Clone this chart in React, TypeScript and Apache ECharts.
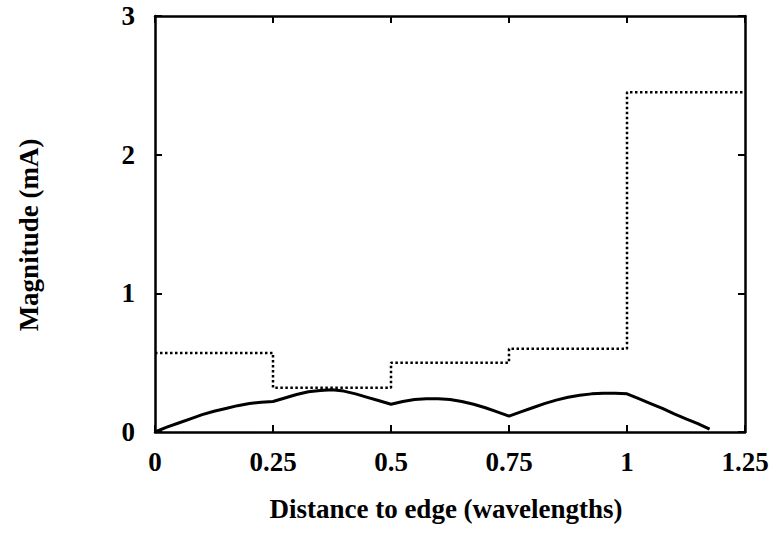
import React, { useEffect, useRef } from "react";
import * as echarts from "echarts";

const stepX = [0, 0.25, 0.5, 0.75, 1.0, 1.25];
const stepY = [0.57, 0.32, 0.5, 0.6, 2.45, 2.45];

const solidX = [
  0, 0.025, 0.05, 0.075, 0.1, 0.125, 0.15, 0.175, 0.2, 0.225, 0.25,
  0.275, 0.3, 0.325, 0.35, 0.375, 0.4, 0.425, 0.45, 0.475, 0.5,
  0.525, 0.55, 0.575, 0.6, 0.625, 0.65, 0.675, 0.7, 0.725, 0.75,
  0.775, 0.8, 0.825, 0.85, 0.875, 0.9, 0.925, 0.95, 0.975, 1.0,
  1.025, 1.05, 1.075, 1.1, 1.125, 1.15, 1.175,
];
const solidY = [
  0, 0.035, 0.065, 0.095, 0.125, 0.15, 0.17, 0.19, 0.205, 0.215, 0.22,
  0.245, 0.27, 0.29, 0.3, 0.305, 0.295, 0.275, 0.25, 0.225, 0.2,
  0.22, 0.235, 0.24, 0.24, 0.235, 0.22, 0.2, 0.175, 0.145, 0.115,
  0.145, 0.175, 0.205, 0.23, 0.25, 0.265, 0.275, 0.28, 0.28, 0.275,
  0.24, 0.205, 0.17, 0.13, 0.095, 0.06, 0.02,
];

const xTicks = [0, 0.25, 0.5, 0.75, 1, 1.25];
const xTickLabels = ["0", "0.25", "0.5", "0.75", "1", "1.25"];
const yTickLabels = ["0", "1", "2", "3"];

const xTitle = "Distance to edge (wavelengths)";
const yTitle = "Magnitude (mA)";

const FONT = "'Liberation Serif', 'DejaVu Serif', serif";

export default function App() {
  const ref = useRef<HTMLDivElement>(null);
  useEffect(() => {
    if (!ref.current) return;
    const chart = echarts.init(ref.current, null, { renderer: "svg" });
    const axisLine = { show: true, onZero: false, lineStyle: { color: "#000", width: 2.5 } };
    const tick = { show: true, inside: true, length: 7, lineStyle: { color: "#000", width: 2 } };
    chart.setOption({
      animation: false,
      backgroundColor: "#fff",
      grid: { left: 155, right: 32, top: 16, bottom: 110, containLabel: false },
      xAxis: [
        {
          type: "value",
          min: 0,
          max: 1.25,
          interval: 0.25,
          position: "bottom",
          axisLine,
          axisTick: tick,
          splitLine: { show: false },
          axisLabel: {
            margin: 16,
            color: "#000",
            fontFamily: FONT,
            fontWeight: "bold",
            fontSize: 27,
            formatter: (v: number) => {
              const i = xTicks.findIndex((t) => Math.abs(t - v) < 1e-6);
              return i >= 0 ? xTickLabels[i] : "";
            },
          },
        },
        {
          type: "value",
          min: 0,
          max: 1.25,
          interval: 0.25,
          position: "top",
          axisLine,
          axisTick: tick,
          splitLine: { show: false },
          axisLabel: { show: false },
        },
      ],
      yAxis: [
        {
          type: "value",
          min: 0,
          max: 3,
          interval: 1,
          position: "left",
          axisLine,
          axisTick: tick,
          splitLine: { show: false },
          axisLabel: {
            margin: 20,
            color: "#000",
            fontFamily: FONT,
            fontWeight: "bold",
            fontSize: 27,
            formatter: (v: number) => yTickLabels[Math.round(v)] ?? "",
          },
        },
        {
          type: "value",
          min: 0,
          max: 3,
          interval: 1,
          position: "right",
          axisLine,
          axisTick: tick,
          splitLine: { show: false },
          axisLabel: { show: false },
        },
      ],
      series: [
        {
          type: "line",
          step: "end",
          data: stepX.map((x, i) => [x, stepY[i]]),
          showSymbol: false,
          lineStyle: { color: "#000", width: 2.5, type: [2.5, 2.5] },
        },
        {
          type: "line",
          data: solidX.map((x, i) => [x, solidY[i]]),
          showSymbol: false,
          lineStyle: { color: "#000", width: 3 },
        },
      ],
      graphic: [
        {
          type: "text",
          x: 446,
          y: 509,
          style: {
            text: xTitle,
            fill: "#000",
            font: `bold 27px ${FONT}`,
            textAlign: "center",
            textVerticalAlign: "middle",
          },
        },
        {
          type: "text",
          x: 29,
          y: 235,
          rotation: Math.PI / 2,
          style: {
            text: yTitle,
            fill: "#000",
            font: `bold 27px ${FONT}`,
            textAlign: "center",
            textVerticalAlign: "middle",
          },
        },
      ],
    });
    return () => chart.dispose();
  }, []);
  return <div ref={ref} style={{ width: 777, height: 542, position: "absolute", left: 0, top: 0 }} />;
}
